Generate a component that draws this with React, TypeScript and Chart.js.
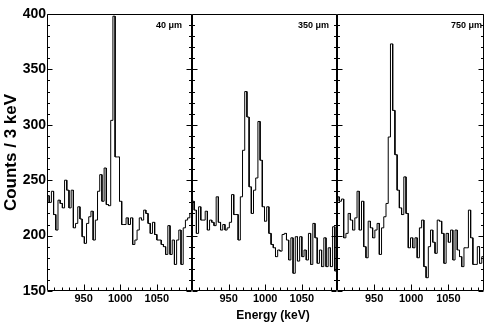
import { useEffect, useRef } from 'react';
import { Chart, registerables } from 'chart.js';

Chart.register(...registerables);

// ---- data ----
const BIN_START = 900; // keV, lower edge of first bin
const BIN_WIDTH = 3; // keV
const X_MIN = 900;
const X_MAX = 1098;
const Y_MIN = 150;
const Y_MAX = 400;
const X_TICK_LABELS = [950, 1000, 1050];
const Y_TICK_LABELS = [150, 200, 250, 300, 350, 400];
const PANEL_LABELS = ['40 μm', '350 μm', '750 μm'];
const Y_TITLE = 'Counts / 3 keV';
const X_TITLE = 'Energy (keV)';

const COUNTS_40UM = [
  236, 230, 240, 219, 205, 232, 229, 225, 250, 241,
  225, 241, 207, 211, 226, 215, 199, 193, 211, 217,
  222, 196, 214, 240, 255, 231, 261, 228, 227, 304,
  398, 271, 271, 231, 210, 210, 216, 210, 216, 192,
  196, 205, 216, 214, 223, 220, 211, 202, 212, 201,
  196, 196, 192, 190, 183, 209, 183, 196, 174, 196,
  205, 174, 207, 214, 216, 220,
];
const COUNTS_350UM = [
  231, 223, 202, 226, 214, 214, 222, 205, 214, 212,
  209, 235, 212, 205, 210, 205, 207, 212, 237, 219,
  219, 196, 235, 277, 330, 307, 244, 220, 241, 252,
  303, 268, 226, 213, 226, 202, 192, 189, 181, 187,
  186, 201, 202, 196, 178, 198, 166, 199, 177, 199,
  181, 187, 178, 202, 174, 211, 198, 175, 187, 172,
  198, 172, 189, 172, 208, 168,
];
const COUNTS_750UM = [
  235, 231, 233, 198, 202, 220, 214, 205, 216, 240,
  205, 231, 190, 180, 213, 207, 198, 205, 211, 183,
  207, 217, 229, 289, 373, 313, 273, 241, 225, 219,
  253, 220, 189, 198, 189, 198, 180, 207, 214, 172,
  162, 190, 205, 194, 184, 214, 213, 202, 175, 202,
  194, 205, 178, 205, 187, 181, 172, 189, 189, 223,
  198, 174, 174, 190, 175, 181,
];
const SERIES = [COUNTS_40UM, COUNTS_350UM, COUNTS_750UM];

// ---- layout / style ----
const W = 491;
const H = 327;
const PLOT_TOP = 14;
const PLOT_BOTTOM = 291;
const PANEL_BOXES = [
  { left: 47, right: 192 },
  { left: 192, right: 337 },
  { left: 337, right: 484 },
];
const LABEL_RIGHT = [182, 329, 482];
const FONT = '"Liberation Sans", Arial, Helvetica, sans-serif';
const MINOR_STEP = 10;
const MAJOR_STEP = 50;

function histogramPoints(counts: number[]) {
  const pts: { x: number; y: number }[] = [];
  counts.forEach((c, i) => {
    const x0 = BIN_START + i * BIN_WIDTH;
    pts.push({ x: x0, y: c }, { x: x0 + BIN_WIDTH, y: c });
  });
  return pts;
}

function makeFramePlugin(index: number) {
  return {
    id: 'frame' + index,
    afterDraw(chart: any) {
      const ctx = chart.ctx;
      const { left, right, top, bottom } = chart.chartArea;
      const xs = chart.scales.x;
      const ys = chart.scales.y;
      ctx.save();
      ctx.strokeStyle = '#000';
      ctx.lineWidth = 1;
      ctx.beginPath();
      const L = Math.round(left) + 0.5;
      const R = Math.round(right) - 0.5;
      const T = Math.round(top) + 0.5;
      const B = Math.round(bottom) - 0.5;
      ctx.moveTo(L, B);
      ctx.lineTo(L, T);
      ctx.lineTo(R, T);
      ctx.lineTo(R, B);
      ctx.lineTo(L, B);
      // y ticks (inward, both sides)
      for (let v = Y_MIN; v <= Y_MAX; v += MINOR_STEP) {
        const y = Math.round(ys.getPixelForValue(v)) + 0.5;
        const len = v % MAJOR_STEP === 0 ? 5 : 2.5;
        ctx.moveTo(L, y);
        ctx.lineTo(L + len, y);
        ctx.moveTo(R, y);
        ctx.lineTo(R - len, y);
      }
      // x ticks (inward, bottom)
      for (let v = X_MIN + MINOR_STEP; v < X_MAX; v += MINOR_STEP) {
        const x = Math.round(xs.getPixelForValue(v)) + 0.5;
        const len = v % MAJOR_STEP === 0 ? 6 : 3;
        ctx.moveTo(x, B);
        ctx.lineTo(x, B - len);
      }
      ctx.stroke();

      // panel label
      ctx.fillStyle = '#000';
      ctx.font = 'bold 9px ' + FONT;
      ctx.textAlign = 'right';
      ctx.textBaseline = 'middle';
      ctx.fillText(PANEL_LABELS[index], LABEL_RIGHT[index], 25.5);

      if (index === 1) {
        ctx.font = 'bold 12px ' + FONT;
        ctx.textAlign = 'center';
        ctx.fillText(X_TITLE, 273, 316);
      }
      ctx.restore();
    },
  };
}

export default function App() {
  const refs = [useRef<HTMLCanvasElement>(null), useRef<HTMLCanvasElement>(null), useRef<HTMLCanvasElement>(null)];

  useEffect(() => {
    const charts: Chart[] = [];
    refs.forEach((ref, index) => {
      const canvas = ref.current;
      if (!canvas) return;
      const box = PANEL_BOXES[index];
      const first = index === 0;
      const chart = new Chart(canvas, {
        type: 'line',
        data: {
          datasets: [
            {
              data: histogramPoints(SERIES[index]),
              borderColor: '#000',
              borderWidth: 1,
              pointRadius: 0,
              fill: false,
              tension: 0,
            },
          ],
        },
        options: {
          animation: false,
          responsive: false,
          maintainAspectRatio: false,
          events: [],
          layout: {
            padding: {
              left: first ? 0 : box.left,
              right: W - box.right,
              top: PLOT_TOP,
              bottom: 0,
            },
          },
          plugins: {
            legend: { display: false },
            tooltip: { enabled: false },
            title: { display: false },
          },
          scales: {
            x: {
              type: 'linear',
              min: X_MIN,
              max: X_MAX,
              grid: { display: false, drawTicks: false },
              border: { display: false },
              afterBuildTicks: (s: any) => {
                s.ticks = X_TICK_LABELS.map((v) => ({ value: v }));
              },
              afterFit: (s: any) => {
                s.height = H - PLOT_BOTTOM;
              },
              ticks: {
                color: '#000',
                font: { family: FONT, size: 11, weight: 'bold' },
                padding: 1,
                maxRotation: 0,
                autoSkip: false,
                callback: (v: any) => String(v),
              },
            },
            y: {
              type: 'linear',
              min: Y_MIN,
              max: Y_MAX,
              display: first,
              grid: { display: false, drawTicks: false },
              border: { display: false },
              afterBuildTicks: (s: any) => {
                s.ticks = Y_TICK_LABELS.map((v) => ({ value: v }));
              },
              afterFit: (s: any) => {
                if (first) s.width = box.left;
              },
              ticks: {
                color: '#000',
                font: { family: FONT, size: 14, weight: 'bold' },
                padding: 1,
                callback: (v: any) => String(v),
              },
              title: {
                display: first,
                text: Y_TITLE,
                color: '#000',
                font: { family: FONT, size: 17, weight: 'bold', lineHeight: 1.2 },
                padding: { top: 1, bottom: 0 },
              },
            },
          },
        } as any,
        plugins: [makeFramePlugin(index)],
      });
      charts.push(chart);
    });
    return () => charts.forEach((c) => c.destroy());
  }, []);

  return (
    <div style={{ position: 'fixed', left: 0, top: 0, width: W, height: H, background: '#fff' }}>
      {refs.map((ref, i) => (
        <canvas
          key={i}
          ref={ref}
          width={W}
          height={H}
          style={{ position: 'absolute', left: 0, top: 0, width: W, height: H, pointerEvents: 'none' }}
        />
      ))}
    </div>
  );
}
